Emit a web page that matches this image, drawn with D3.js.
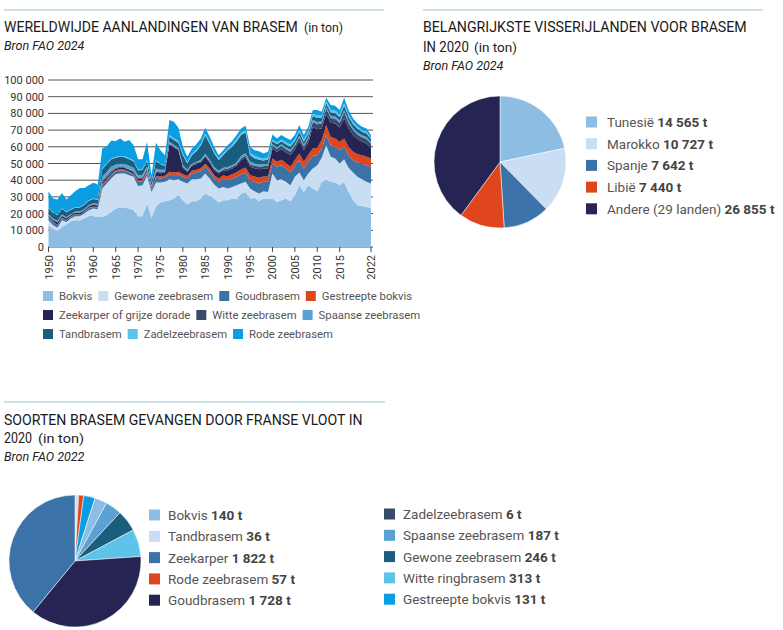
<!DOCTYPE html>
<html>
<head>
<meta charset="utf-8">
<script src="https://cdn.jsdelivr.net/npm/d3@7"></script>
<style>
body { margin: 0; background: #fff; }
svg text { font-family: Roboto, "Noto Sans", sans-serif; }
</style>
</head>
<body>
<svg id="chart" width="783" height="630"></svg>
<script>
// DATA: world landings per species (tons), 1950-2022
const years = [1950,1951,1952,1953,1954,1955,1956,1957,1958,1959,1960,1961,1962,1963,1964,1965,1966,1967,1968,1969,
    1970,1971,1972,1973,1974,1975,1976,1977,1978,1979,1980,1981,1982,1983,1984,1985,1986,1987,1988,1989,
    1990,1991,1992,1993,1994,1995,1996,1997,1998,1999,2000,2001,2002,2003,2004,2005,2006,2007,2008,2009,
    2010,2011,2012,2013,2014,2015,2016,2017,2018,2019,2020,2021,2022];

const bokvis = [13000,11000,9600,12000,13400,15400,16000,16000,17000,18600,18600,18000,18000,19000,21000,23000,23600,23500,23000,22000,
    18400,18400,26000,17400,24400,26600,27400,28000,29000,31000,28000,25400,27400,27400,29000,32000,30600,29000,26600,28000,
    28000,29000,28600,32000,33000,29000,29400,27400,29000,28600,29000,27000,28000,29000,27400,31000,37000,33000,37000,35000,
    33400,39000,40000,39000,38600,37000,39000,33000,28000,25000,24600,24000,23000];
const gewoneZeebrasem = [3000,2000,2000,4000,1600,1600,2400,2400,3000,3400,4400,4600,17000,19000,20000,20600,20400,20500,20000,20000,
    18200,18600,16600,15600,14200,12000,11600,12600,11000,9600,11000,12600,13200,13200,12000,12000,10400,8400,8400,8000,
    7000,7000,8400,6000,6000,6000,4000,4600,4400,4400,15000,13000,12600,10000,9600,11000,7600,7000,7000,12000,
    15600,14400,21000,15000,14400,13000,13600,14400,16600,17000,16000,15000,15000];
const goudbrasem = [2000,2000,1400,1400,1000,1000,1000,1000,1000,1400,1000,1000,2000,2000,2000,1800,2000,1800,1600,1400,
    2400,2400,2000,1600,2800,2400,2400,2800,3000,2800,3000,3000,3400,4000,4400,4000,4000,3600,4000,4600,
    5000,5000,5000,5400,5600,5000,5600,6000,5600,6000,6000,8000,8400,8000,7600,6600,7400,7000,7000,7600,
    6000,5600,6000,7000,7000,8000,7400,7600,7400,8600,9400,10000,10000];
const gestreepteBokvis = [200,200,200,200,200,200,200,200,200,200,300,300,500,500,500,500,500,500,500,500,
    800,800,800,500,1000,1200,1200,1600,1600,1600,1500,1500,1600,1700,1800,2000,2000,2000,2000,2200,
    2400,2500,2800,3000,3000,3000,3200,3400,3200,3200,3000,3000,3200,3300,3500,3500,4000,4000,4200,4400,
    4500,5000,6000,4800,5000,4800,5000,5000,5000,5000,5000,5000,5000];
const zeekarper = [800,1000,1500,1000,800,800,800,800,800,800,1000,1000,1000,1000,1000,1000,1000,1000,1000,1000,
    1000,1000,1000,500,2000,2000,2000,16500,15000,13000,4000,2500,3000,3200,3500,4000,3500,3000,3000,3000,
    3500,3500,3800,5500,6000,5000,5000,5200,4600,5000,6000,6000,6300,6400,7000,6500,7500,7000,7500,12800,
    11000,7000,7000,8600,9000,8800,12000,11000,10000,9000,8000,8000,6500];
const witteZeebrasem = [300,300,300,300,300,300,300,300,300,300,300,300,1000,1000,1000,500,500,500,500,500,
    500,500,500,300,600,500,500,500,500,500,600,500,600,600,700,800,800,800,800,800,
    1000,1000,1000,1200,1200,1500,1500,1600,1500,1500,1600,1800,2000,2000,2000,2000,2200,2200,2200,3000,
    3000,3000,3000,2800,2800,2800,3500,3200,3000,2800,2700,2700,2300];
const spaanseZeebrasem = [500,500,500,500,500,500,500,500,500,500,600,600,2500,2500,2500,2000,2000,2000,2000,2000,
    1500,1500,1500,1000,2000,1500,1200,1000,1000,1000,800,700,800,800,900,1000,1000,900,800,800,
    1000,1000,1200,1400,1400,1500,1500,1500,1300,1400,1000,1000,1000,1000,1000,1000,1100,1100,1100,1400,
    1400,1300,1000,1300,1300,1300,1600,1400,1300,1200,1200,1200,1000];
const tandbrasem = [3500,3500,3500,3500,3000,2500,2500,2500,2500,2500,2500,2500,4500,4500,4500,4000,4000,4000,4000,4000,
    3000,3000,3000,2000,4500,3300,2200,3000,3000,3000,6000,3800,5000,6400,8400,11000,9500,8500,6500,7600,
    10000,11000,12500,12500,12400,4000,3000,2500,2200,2300,1800,1700,1800,1800,1900,1800,2000,1900,2000,2400,
    2300,2200,2000,2200,2200,2200,2600,2400,2200,2200,2100,2100,1800];
const zadelzeebrasem = [300,300,300,300,300,300,300,300,300,300,300,300,500,500,500,500,500,500,500,500,
    500,500,500,300,500,500,500,1000,1000,1000,800,800,800,900,1000,1100,1000,900,900,1000,
    1000,1200,1300,1400,1400,1500,1400,1400,1200,1200,1000,1000,1100,1200,1200,1100,1200,1100,1200,1400,
    1500,1300,1400,1500,1500,1400,1600,1300,1200,1100,1000,1000,800];
const rodeZeebrasem = [9800,8200,9100,9200,7300,8400,9600,11400,9800,9000,9400,8800,12000,10400,10600,9500,10500,8700,10900,9100,
    6300,5900,10900,3800,10500,8000,6000,9000,9900,7900,4300,3200,3200,3300,3300,3500,3200,2900,2000,2000,
    2100,2200,2400,2600,2600,3500,3400,3800,3000,3400,3000,2500,2600,2700,2800,2500,3000,2700,2800,2000,
    3300,2200,2000,2800,2800,2700,3100,2700,2300,2100,2000,2000,1600];

const species = ["Bokvis", "Gewone zeebrasem", "Goudbrasem", "Gestreepte bokvis", "Zeekarper of grijze dorade",
    "Witte zeebrasem", "Spaanse zeebrasem", "Tandbrasem", "Zadelzeebrasem", "Rode zeebrasem"];
const speciesSeries = [bokvis, gewoneZeebrasem, goudbrasem, gestreepteBokvis, zeekarper,
    witteZeebrasem, spaanseZeebrasem, tandbrasem, zadelzeebrasem, rodeZeebrasem];
const speciesColors = ["#8dbde2", "#c9def2", "#3b73a8", "#e0461e", "#252453",
    "#3a4a6b", "#5aa2d4", "#1b5d7c", "#5ec3ea", "#0a9de2"];

const yTicks = [0,10000,20000,30000,40000,50000,60000,70000,80000,90000,100000];
const xTicks = [1950,1955,1960,1965,1970,1975,1980,1985,1990,1995,2000,2005,2010,2015,2022];

// DATA: main fishing countries 2020 (tons)
const countries = ["Tunesië", "Marokko", "Spanje", "Libië", "Andere (29 landen)"];
const countryTons = [14565, 10727, 7642, 7440, 26855];
const countryColors = ["#8dbde2", "#c9def2", "#3b73a8", "#e0461e", "#252453"];

// DATA: French fleet catch 2020 (tons), in pie order
const frSpecies = ["Tandbrasem", "Zadelzeebrasem", "Rode zeebrasem", "Gestreepte bokvis", "Bokvis",
    "Spaanse zeebrasem", "Gewone zeebrasem", "Witte ringbrasem", "Goudbrasem", "Zeekarper"];
const frTons = [36, 6, 57, 131, 140, 187, 246, 313, 1728, 1822];
const frColors = ["#c9def2", "#3a4a6b", "#e0461e", "#0a9de2", "#8dbde2",
    "#5aa2d4", "#1b5d7c", "#5ec3ea", "#252453", "#3b73a8"];
// legend order (two columns)
const frLegend1 = ["Bokvis", "Tandbrasem", "Zeekarper", "Rode zeebrasem", "Goudbrasem"];
const frLegend2 = ["Zadelzeebrasem", "Spaanse zeebrasem", "Gewone zeebrasem", "Witte ringbrasem", "Gestreepte bokvis"];

const nl = d3.formatLocale({ decimal: ",", thousands: " ", grouping: [3], currency: ["", ""] });
const fmt = nl.format(",d");

const svg = d3.select("#chart");

// helpers for headings: squeeze text horizontally to a target width
function fitText(x, y, txt, len, size, fill) {
    const t = svg.append("text").attr("x", 0).attr("y", 0)
        .attr("font-size", size).attr("fill", fill).text(txt);
    const w = t.node().getComputedTextLength();
    t.attr("transform", `translate(${x},${y}) scale(${len / w},1)`);
}
function rule(x1, x2, y) {
    svg.append("line").attr("x1", x1).attr("x2", x2).attr("y1", y).attr("y2", y)
        .attr("stroke", "#9fc3d8").attr("stroke-width", 1);
}
function heading(x, y, txt, len) { fitText(x, y, txt, len, 15, "#1a1a1a"); }
function small(x, y, txt, len) { fitText(x, y, txt, len, 13, "#222"); }
function source(x, y, txt) {
    svg.append("text").attr("x", x).attr("y", y).attr("font-size", 12.5)
        .attr("font-style", "italic").attr("fill", "#222").text(txt);
}

/* ============ STACKED AREA ============ */
rule(4, 384, 10);
heading(4, 32, "WERELDWIJDE AANLANDINGEN VAN BRASEM", 294);
small(304, 32, "(in ton)", 39);
source(4, 50, "Bron FAO 2024");

const x = d3.scaleLinear().domain([1950, 2022]).range([48.5, 371]);
const y = d3.scaleLinear().domain([0, 100000]).range([247, 80]);

// gridlines
svg.append("g").selectAll("line").data(yTicks).join("line")
    .attr("x1", 48).attr("x2", 373)
    .attr("y1", d => y(d)).attr("y2", d => y(d))
    .attr("stroke", "#555").attr("stroke-width", 1);

svg.append("g").selectAll("text").data(yTicks).join("text")
    .attr("x", 44).attr("y", d => y(d) + 4)
    .attr("text-anchor", "end").attr("font-size", 11).attr("fill", "#333")
    .text(d => fmt(d));

const rows = years.map((yr, i) => {
    const o = { year: yr };
    species.forEach((s, k) => o[s] = speciesSeries[k][i]);
    return o;
});
const stacked = d3.stack().keys(species)(rows);
const area = d3.area()
    .x(d => x(d.data.year))
    .y0(d => y(d[0]))
    .y1(d => y(d[1]));

svg.append("g").selectAll("path").data(stacked).join("path")
    .attr("d", area)
    .attr("fill", (d, i) => speciesColors[i]);

// x axis ticks + rotated labels
const xAxis = svg.append("g");
xAxis.selectAll("line").data(xTicks).join("line")
    .attr("x1", d => x(d)).attr("x2", d => x(d))
    .attr("y1", 247).attr("y2", 252)
    .attr("stroke", "#444");
xAxis.selectAll("text").data(xTicks).join("text")
    .attr("transform", d => `translate(${x(d) + 4},255) rotate(-90)`)
    .attr("text-anchor", "end").attr("font-size", 11).attr("fill", "#333")
    .text(d => d);

// legend
const legendRows = [[0, 1, 2, 3], [4, 5, 6], [7, 8, 9]];
legendRows.forEach((row, r) => {
    let lx = 43;
    const ly = 296 + r * 19;
    row.forEach(k => {
        svg.append("rect").attr("x", lx).attr("y", ly - 5).attr("width", 10).attr("height", 10)
            .attr("fill", speciesColors[k]);
        const t = svg.append("text").attr("x", lx + 16).attr("y", ly + 4)
            .attr("font-size", 11.3).attr("fill", "#555").text(species[k]);
        lx += 16 + t.node().getComputedTextLength() + 6;
    });
});

/* ============ COUNTRY PIE ============ */
rule(423, 763, 10);
heading(423, 32, "BELANGRIJKSTE VISSERIJLANDEN VOOR BRASEM", 324);
heading(423, 52, "IN 2020", 46);
small(474, 52, "(in ton)", 43);
source(423, 70, "Bron FAO 2024");

const pie = d3.pie().sort(null).value(d => d);
const arc = d3.arc().innerRadius(0).outerRadius(66);

svg.append("g").attr("transform", "translate(500,162)")
    .selectAll("path").data(pie(countryTons)).join("path")
    .attr("d", arc)
    .attr("fill", (d, i) => countryColors[i])
    .attr("stroke", "#fff").attr("stroke-width", 0.5);

countries.forEach((c, i) => {
    const ly = 122 + i * 21.7;
    svg.append("rect").attr("x", 586).attr("y", ly - 5.5).attr("width", 11).attr("height", 11)
        .attr("fill", countryColors[i]);
    const t = svg.append("text").attr("x", 607).attr("y", ly + 5).attr("font-size", 13.5).attr("fill", "#555");
    t.append("tspan").text(c + " ");
    t.append("tspan").attr("font-weight", "bold").attr("fill", "#444").text(fmt(countryTons[i]) + " t");
});

/* ============ FRENCH FLEET PIE ============ */
rule(4, 385, 402);
heading(4, 425, "SOORTEN BRASEM GEVANGEN DOOR FRANSE VLOOT IN", 359);
heading(4, 443, "2020", 28);
small(38, 443, "(in ton)", 46);
source(4, 461, "Bron FAO 2022");

svg.append("g").attr("transform", "translate(75,561)")
    .selectAll("path").data(pie(frTons)).join("path")
    .attr("d", arc)
    .attr("fill", (d, i) => frColors[i])
    .attr("stroke", "#fff").attr("stroke-width", 0.5);

function frItem(name, sx, tx, ly) {
    const k = frSpecies.indexOf(name);
    svg.append("rect").attr("x", sx).attr("y", ly - 5.5).attr("width", 11).attr("height", 11)
        .attr("fill", frColors[k]);
    const t = svg.append("text").attr("x", tx).attr("y", ly + 5).attr("font-size", 13.5).attr("fill", "#555");
    t.append("tspan").text(name + " ");
    t.append("tspan").attr("font-weight", "bold").attr("fill", "#444").text(fmt(frTons[k]) + " t");
}
frLegend1.forEach((n, i) => frItem(n, 149, 168, 515 + i * 21.3));
frLegend2.forEach((n, i) => frItem(n, 384, 403, 514 + i * 21.3));
</script>
</body>
</html>
